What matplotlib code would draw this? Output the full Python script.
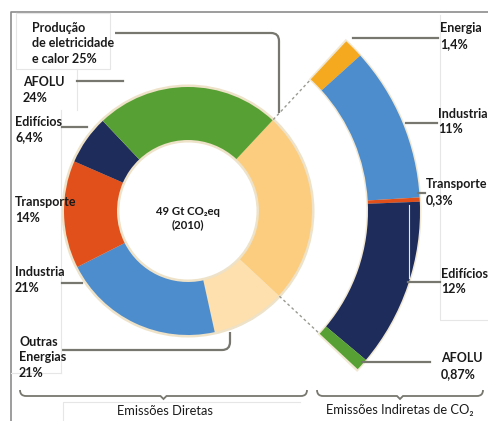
"""IPCC-style donut: direct emissions by sector, with indirect CO2 arc."""

import matplotlib.pyplot as plt
import numpy as np
from matplotlib.patches import PathPatch
from matplotlib.path import Path

plt.rcParams["font.family"] = ["Lato", "DejaVu Sans"]

# direct emissions, clockwise from the upper right of the ring
direct_labels = ["Produção\nde eletricidade\ne calor 25%", "Outras\nEnergias\n21%",
                 "Industria\n21%", "Transporte\n14%", "Edifícios\n6,4%", "AFOLU\n24%"]
direct_values = [25, 9.6, 21, 14, 6.4, 24]
direct_colors = ["#fccd7e", "#fde0ae", "#4e8dcd", "#e1501b", "#1e2c5b", "#57a134"]

# indirect CO2 emissions (electricity and heat reallocated), top to bottom
indirect_labels = ["Energia\n1,4%", "Industria\n11%", "Transporte\n0,3%", "Edifícios\n12%", "AFOLU\n0,87%"]
indirect_values = [1.4, 11, 0.3, 12, 0.87]
indirect_colors = ["#f5a91e", "#4e8dcd", "#e1501b", "#1e2c5b", "#57a134"]

center_text = "49 Gt CO₂eq\n(2010)"

LINE = "#77776f"
TXT = "#1a1a1a"
cx, cy = 188, 211
R, W = 124, 53
R2, W2 = 232, 52
start = 47  # visual angle (deg) where the electricity segment starts

fig = plt.figure(figsize=(4.88, 4.21), dpi=100)
ax = fig.add_axes([0, 0, 1, 1])

# y axis is inverted (pixel-like), so data angles are mirrored:
# startangle=-start and counterclock=True draw clockwise from `start`.
ax.pie([1], center=(cx, cy), radius=R + 2.5, colors=["#eee2c8"],
       wedgeprops=dict(width=W + 5, linewidth=0))
ax.pie(direct_values, center=(cx, cy), radius=R, colors=direct_colors,
       startangle=-start, counterclock=True, wedgeprops=dict(width=W, linewidth=0))

elec_frac = direct_values[0] / sum(direct_values)
ind = np.array(indirect_values)
fracs = ind / ind.sum() * elec_frac
ax.pie([elec_frac + 0.003], center=(cx, cy), radius=R2 + 1.5, colors=["#f1e8d4"],
       startangle=-start - 0.5, counterclock=True, normalize=False,
       wedgeprops=dict(width=W2 + 3, linewidth=0))
ax.pie(fracs, center=(cx, cy), radius=R2, colors=indirect_colors,
       startangle=-start, counterclock=True, normalize=False,
       wedgeprops=dict(width=W2, linewidth=0))

# dashed connectors from ring to arc
for a in (start, start - 360 * elec_frac):
    t = np.deg2rad(a)
    rr = np.array([R + 1, R2 - W2 - 1])
    ax.plot(cx + rr * np.cos(t), cy - rr * np.sin(t), ls=(0, (2, 2)), color="#9a9a92", lw=1)

ax.text(cx, cy + 7, center_text, ha="center", va="center", fontsize=8.2,
        fontweight="bold", color=TXT, linespacing=1.25)


def path(verts, codes, **kw):
    ax.add_patch(PathPatch(Path(verts, codes), fill=False, **kw))


M, L, C = Path.MOVETO, Path.LINETO, Path.CURVE3

# frame and faint label boxes
ax.plot([11, 11, 488], [421, 12, 12], color="#8c8c8c", lw=1.2)
faint = dict(color="#e6e6e6", lw=0.8)
ax.plot([16, 16, 110, 110, 16], [13, 69, 69, 13, 13], **faint)
ax.plot([77, 77], [69, 110], **faint)
ax.plot([61, 61], [110, 373], **faint)
ax.plot([11, 61], [373, 373], **faint)
ax.plot([440, 440, 488], [15, 320, 320], **faint)
ax.plot([409, 409], [205, 278], **faint)
ax.plot([63, 63, 300], [421, 402, 402], **faint)

# leader lines
lw = 1.6
path([(115, 33), (271, 33), (279, 33), (279, 41), (279, 113)], [M, L, C, C, L], color=LINE, lw=lw)
path([(62, 350), (222, 350), (230, 350), (230, 342), (230, 332)], [M, L, C, C, L], color=LINE, lw=lw)
for x0, x1, y in [(77, 123, 81), (62, 87, 127), (62, 82, 283),
                  (353, 438, 38), (406, 437, 123), (418, 425, 193),
                  (408, 440, 282), (362, 430, 362)]:
    ax.plot([x0, x1], [y, y], color=LINE, lw=lw)

# braces under the two groups
for x0, x1 in [(20, 307), (317, 483)]:
    xm = (x0 + x1) / 2
    path([(x0, 390), (x0, 396), (x0 + 6, 396), (xm - 3, 396), (xm, 399), (xm + 3, 396),
          (x1 - 6, 396), (x1, 396), (x1, 390)], [M, C, C, L, L, L, L, C, C], color=LINE, lw=1.3)

# labels (x, first line y)
left_pos = [(32, 26), (19, 340), (15, 271), (15, 201), (15, 120), (23, 81)]
right_pos = [(440, 27), (438, 112), (426, 183), (441, 272), (441, 357)]
for lab, (x, y) in zip(direct_labels + indirect_labels, left_pos + right_pos):
    ax.text(x, y - 4.5, lab, ha="left", va="top", fontsize=9.0, fontweight="bold",
            color=TXT, linespacing=1.37)

ax.text(165, 411, "Emissões Diretas", ha="center", va="center", fontsize=9.3, color=TXT)
ax.text(400, 410, "Emissões Indiretas de CO₂", ha="center", va="center", fontsize=9.3, color=TXT)

ax.set_xlim(0, 488)
ax.set_ylim(421, 0)
ax.set_aspect("equal")
ax.axis("off")
fig.savefig("out.png", dpi=100)
